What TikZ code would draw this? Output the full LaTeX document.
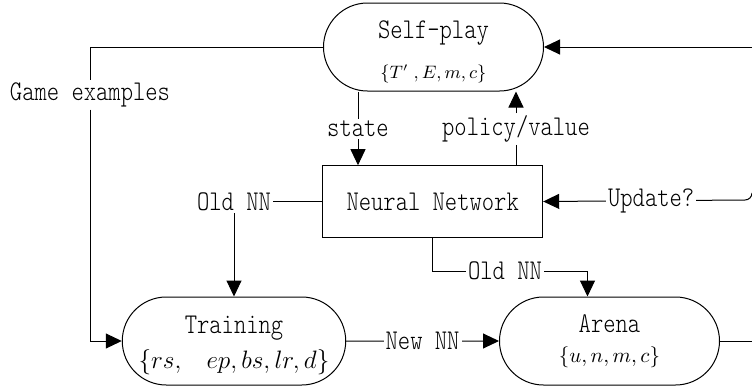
\RequirePackage{fix-cm}
\documentclass[tikz,border=0pt]{standalone}
\usepackage{fontspec}
\setmonofont{lmmonolt10-regular.otf}[FakeStretch=0.82]
\usetikzlibrary{positioning,calc,arrows.meta,shapes.misc}
\tikzset{
  stage/.style={rounded rectangle,draw,minimum width=110pt,minimum height=44pt,align=center,inner xsep=0pt,inner ysep=2pt},
  netbox/.style={rectangle,draw,minimum width=110pt,minimum height=35.8pt},
  lbl/.style={fill=white,inner sep=1pt},
}
\newcommand{\mono}{\fontsize{14.3}{16}\selectfont\ttfamily}

\begin{document}
\begin{tikzpicture}[x=0.5pt,y=-0.5pt,line width=0.5pt,>={Triangle[length=8pt,width=7.5pt]},font=\mono]
    \useasboundingbox (0,0) rectangle (752,387);
    \node[stage] (sp) at (433.5,47) {\mbox{}\\[-2pt]Self-play\\[4pt]{\fontsize{9}{10}\selectfont$\{T'\;, E, m, c\}$}};
    \node[netbox] (nn) at (432.7,201.5) {Neural Network};
    \node[stage] (tr) at (234,341) {\mbox{}\\[-2.5pt]Training\\[1.5pt]{\fontsize{12.6}{14}\selectfont$\{rs,\;\;\; ep, bs, lr, d\}$}};
    \node[stage] (ar) at (609.5,341) {Arena\\[-1pt]{\fontsize{10.5}{12}\selectfont$\{u, n, m, c\}$}};
    \node[lbl] (ge) at (90,95) {Game examples};
    \node[lbl] (st) at (358,129) {state};
    \node[lbl] (pv) at (516,129) {policy/value};
    \node[lbl] (on1) at (234,201.5) {Old NN};
    \node[lbl] (on2) at (505,271) {Old NN};
    \coordinate (re1) at (752,47);
    \coordinate (re2) at (752,341);
    \coordinate (hop) at (745,200);
    % self-play -> training
    \draw (sp.west) -| (ge.north);
    \draw[->] (ge.south) |- (tr.west);
    % arena loop back to self-play
    \draw[->] (re1) -- (sp.east);
    \draw (ar.east) -- (re2);
    \draw (st.north) -- (st.north |- sp.south);
    \draw[->] (st.south) -- (st.south |- nn.north);
    \draw (pv.south) -- (pv.south |- nn.north);
    \draw[->] (pv.north) -- (pv.north |- sp.south);
    \draw (nn.west) -- (on1.east);
    \draw[->] (on1.south) -- (tr.north);
    \draw (nn.south) |- (on2.west);
    \draw[->] (on2.east) -| ($(ar.north)+(-22,0)$);
    \path[->] (tr) edge node[lbl] {New NN} (ar);
    \draw[->] (hop) -- node[lbl,pos=0.465] {Update?} (nn.east);
    \draw (hop) arc[start angle=90,end angle=0,radius=7];
\end{tikzpicture}
\end{document}
